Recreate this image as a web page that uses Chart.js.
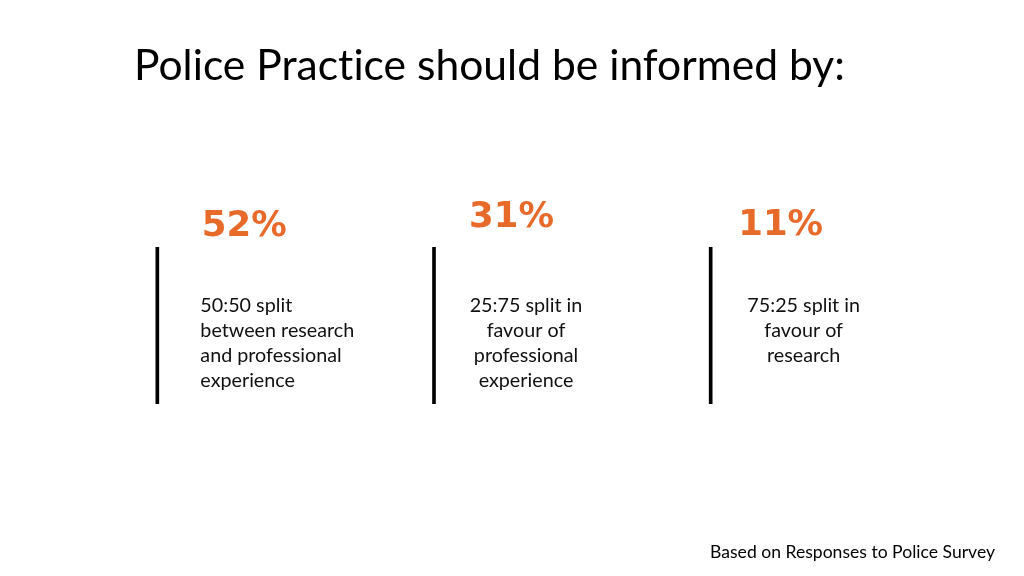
<!DOCTYPE html>
<html>
<head>
<meta charset="utf-8">
<script src="https://cdn.jsdelivr.net/npm/chart.js@4"></script>
<style>
html,body{margin:0;padding:0;background:#fff;}
#wrap{width:1024px;height:576px;position:relative;}
</style>
</head>
<body>
<div id="wrap"><canvas id="c" width="1024" height="576"></canvas></div>
<script>
// ---- data ----
const titleText = "Police Practice should be informed by:";
const footerText = "Based on Responses to Police Survey";
const categories = ["50:50 split", "25:75 split", "75:25 split"];
const percentages = [52, 31, 11];
const descLines = [
  ["50:50 split", "between research", "and professional", "experience"],
  ["25:75 split in", "favour of", "professional", "experience"],
  ["75:25 split in", "favour of", "research"]
];
const dividerSpan = [[0, 1], [0, 1], [0, 1]];

// ---- styling / layout ----
const ORANGE = "#E86A2A";
const BODY_FONT = "Lato, 'Open Sans', sans-serif";
const PCT_FONT = "'DejaVu Sans', sans-serif";
const pctStyle = [
  { dx: 87, baseline: 236 },
  { dx: 77.5, baseline: 227 },
  { dx: 70, baseline: 235 }
];
const descStyle = [
  { align: "left", dx: 43 },
  { align: "center", dx: 92 },
  { align: "center", dx: 93 }
];

function fitSize(ctx, text, family, weight, targetW) {
  ctx.font = weight + " 100px " + family;
  const w = ctx.measureText(text).width;
  return 100 * targetW / w;
}

const textPlugin = {
  id: "textPlugin",
  afterDraw(chart) {
    const ctx = chart.ctx;
    const xs = chart.scales.x;
    ctx.save();
    try { ctx.textRendering = "optimizeSpeed"; } catch (e) {}
    try { ctx.letterSpacing = "0.01px"; } catch (e) {}
    ctx.textBaseline = "alphabetic";
    // title
    let s = fitSize(ctx, titleText, BODY_FONT, "normal", 711);
    ctx.font = "normal " + s + "px " + BODY_FONT;
    ctx.fillStyle = "#000";
    ctx.textAlign = "left";
    ctx.fillText(titleText, 134, 80);
    // footer
    s = fitSize(ctx, footerText, BODY_FONT, "normal", 285);
    ctx.font = "normal " + s + "px " + BODY_FONT;
    ctx.textAlign = "right";
    ctx.fillText(footerText, 995, 558);
    // percentages
    const ps = fitSize(ctx, "52%", PCT_FONT, "bold", 85);
    ctx.font = "bold " + ps + "px " + PCT_FONT;
    ctx.fillStyle = ORANGE;
    ctx.textAlign = "center";
    percentages.forEach((p, i) => {
      const x = xs.getPixelForValue(i);
      ctx.fillText(p + "%", x + pctStyle[i].dx, pctStyle[i].baseline);
    });
    // descriptions
    const ds = fitSize(ctx, "between research", BODY_FONT, "normal", 154);
    ctx.font = "normal " + ds + "px " + BODY_FONT;
    ctx.fillStyle = "#111";
    descLines.forEach((lines, i) => {
      const x = xs.getPixelForValue(i);
      ctx.textAlign = descStyle[i].align;
      lines.forEach((ln, j) => {
        ctx.fillText(ln, x + descStyle[i].dx, 311.5 + j * 25.3);
      });
    });
    ctx.restore();
  }
};

new Chart(document.getElementById("c"), {
  type: "bar",
  data: {
    labels: categories,
    datasets: [{
      data: dividerSpan,
      backgroundColor: "#000",
      borderWidth: 0,
      barThickness: 3,
      borderSkipped: false
    }]
  },
  options: {
    responsive: false,
    animation: false,
    devicePixelRatio: 1,
    layout: { padding: { left: 19, right: 175, top: 247, bottom: 172 } },
    plugins: { legend: { display: false }, tooltip: { enabled: false }, title: { display: false } },
    scales: {
      x: { display: false, offset: true },
      y: { display: false, min: 0, max: 1 }
    }
  },
  plugins: [textPlugin]
});
</script>
</body>
</html>
